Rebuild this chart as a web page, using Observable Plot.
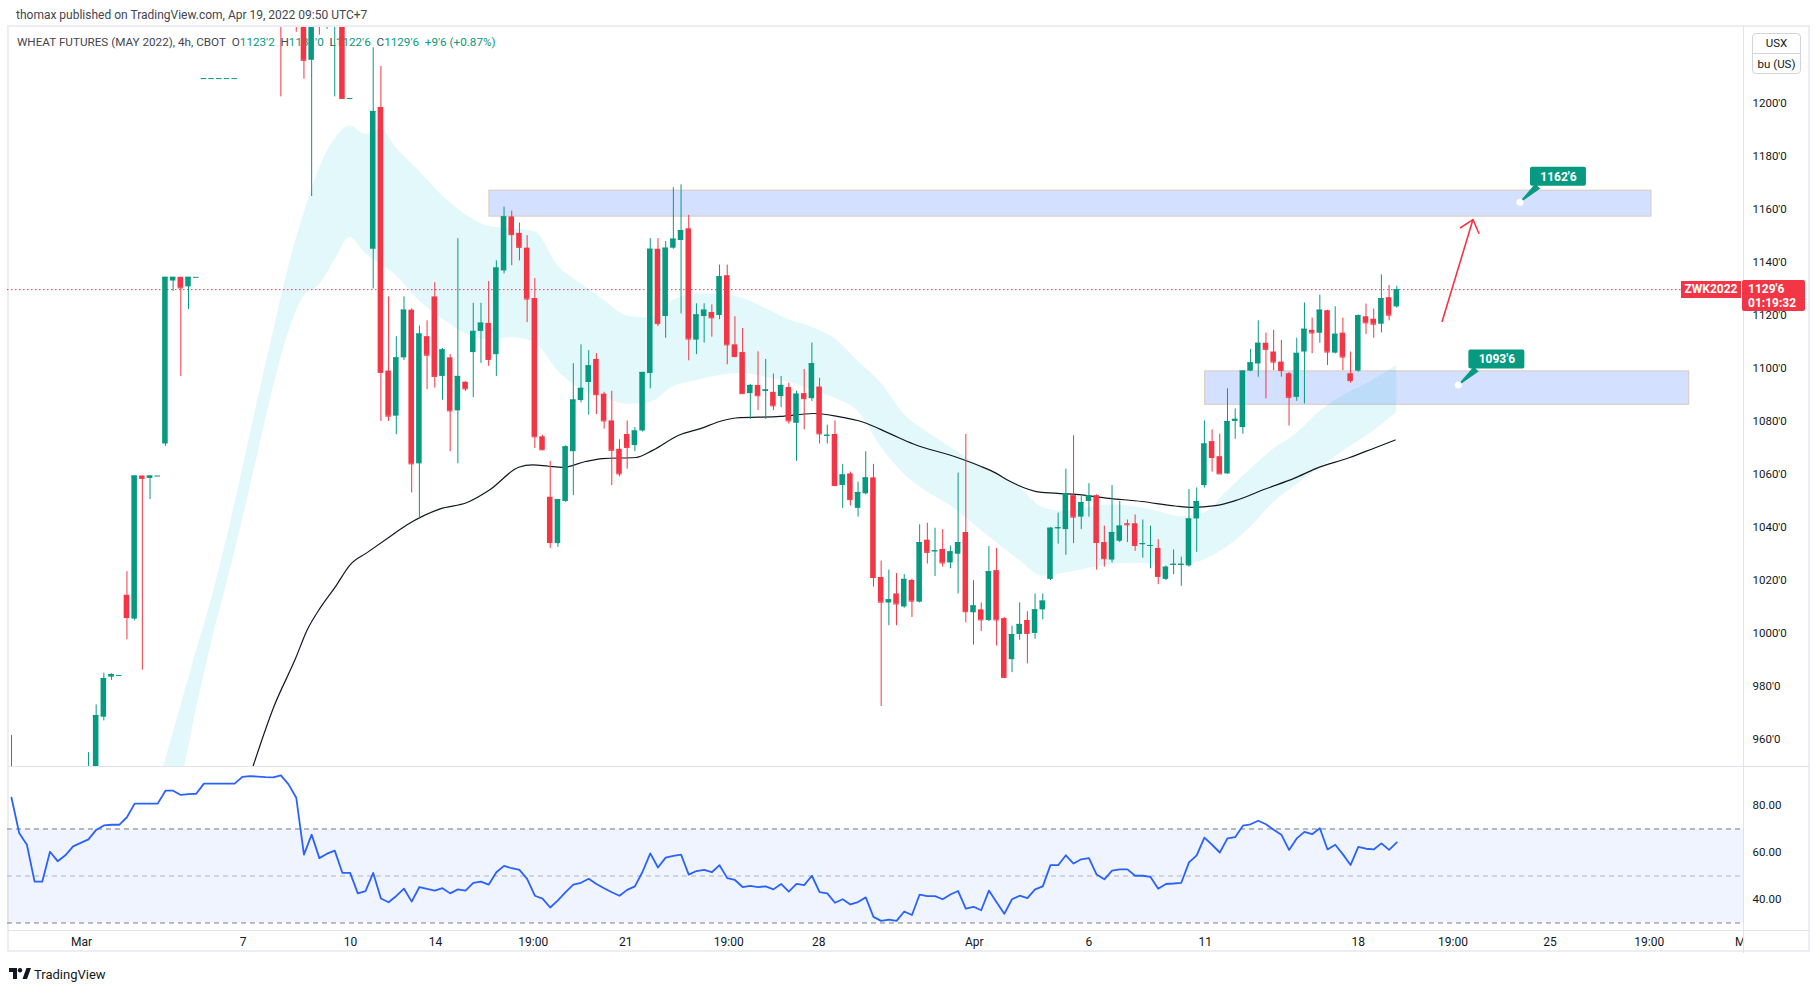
<!DOCTYPE html>
<html><head><meta charset="utf-8">
<script src="https://cdn.jsdelivr.net/npm/d3@7"></script>
<script src="https://cdn.jsdelivr.net/npm/@observablehq/plot@0.6"></script>
<style>
body{margin:0;background:#fff;font-family:Roboto,"Liberation Sans",sans-serif;color:#131722;}
#page{position:relative;width:1820px;height:993px;overflow:hidden;background:#fff;}
</style></head><body><div id="page"></div>
<script>
// ---------- data (4h bars, index 0 = first bar on screen) ----------
const open = [
930,null,null,null,null,null,null,null,null,null,
935,945,968.4,983.5,984.1,1014.4,1005.4,1059.4,1058.5,1059.4,
1071.5,1133,1134.4,1130.8,1134.4,1209.4,1209.4,1209.4,1209.4,1209.4,
null,null,null,null,null,1250,null,1250,1245,1216.3,
1245,1235,1232,1240,1201.9,null,null,1145,1198.5,1099,
1082,1104,1122,1064,1112,1127,1097,1104,1084,1094.8,
1106,1114,1117,1105.2,1136.8,1157.2,1151,1145.4,1126.4,1074.2,
1051.4,1033.9,1049.8,1068.6,1087.9,1094.7,1103.4,1090.3,1080.2,1069.5,
1075.1,1070.9,1076.4,1098.1,1145,1119.6,1145.4,1148.3,1152.7,1110.7,
1119.6,1121.1,1120,1135,1108.9,1106,1090.5,1093.6,1091.3,1091,
1089.4,1092.8,1079.3,1090.5,1088.6,1093,1074.4,1075.1,1055.8,1060.2,
1047.2,1052.7,1058.7,1021.1,1011.5,1014.9,1010,1020,1011.8,1035.2,
1030.8,1031.7,1026.6,1029.9,1038.1,1007.8,1008.9,1004.9,1023.7,1005.6,
990.1,999.6,1004.9,1000,1008.9,1020.4,1039.5,1039.2,1052,1043.9,
1049.8,1052,1034.3,1027.7,1034.8,1041.4,1041.4,1033.5,1032.8,1032.1,
1020.4,1025.7,1025.7,1025.5,1043.2,1055.8,1072.4,1066.7,1060.2,1080,
1077.7,1099,1101.7,1109.5,1106.2,1102.4,1098,1089.1,1106.2,1114.4,
1113.3,1121.8,1105.8,1113.3,1098,1099,1119.5,1118.6,1116.7,1126.7,
1123.25];
const high = [
961.5,null,null,null,null,null,null,null,null,null,
955,973,985,984.8,984.1,1023.3,1059.4,1059.4,1059.4,1059.4,
1134.4,1134.4,1134.4,1134.4,1134.4,1209.4,1209.4,1209.4,1209.4,1209.4,
null,null,null,null,null,1260,null,1260,1255,1250,
1250,1245,1255,1250,1201.9,null,null,1221,1214,1127,
1112,1127,1122.5,1116,1118,1132.4,1107.5,1105.2,1149,1095,
1124.6,1124.6,1132.8,1140.6,1160.9,1159.4,1154.9,1150.1,1133.9,1074.8,
1064.9,1050.5,1070.8,1101.8,1108.9,1106.7,1105.6,1091,1091.4,1073.1,
1080.2,1077.7,1098.5,1149,1149,1147.9,1168.2,1169.3,1157.8,1124.4,
1124.4,1124,1139,1139,1119.5,1115.1,1094,1106.3,1103.4,1097.9,
1097,1094.5,1091.4,1099.6,1109.6,1096.3,1078.6,1080.2,1063.8,1060.9,
1057.1,1068.6,1063.8,1027.3,1023.9,1022.6,1022.2,1020.5,1041,1041.6,
1039.7,1039.2,1033,1060.5,1075.1,1019.9,1011.5,1032.8,1032.1,1006,
1002.7,1011.5,1008.2,1014.9,1014.9,1039.9,1045.4,1062,1074.6,1051.6,
1056.5,1052.3,1040.5,1055.8,1049.8,1042.8,1044.7,1042.8,1040.5,1035.4,
1025.5,1031.5,1028.8,1054.3,1054.9,1080.2,1076.8,1075.2,1092.3,1084.7,
1099.2,1107.2,1118,1113.3,1114.4,1110.6,1098.5,1111.4,1124.7,1119,
1127.7,1122,1123.3,1119,1106.2,1120.2,1124.3,1122.4,1135.3,1131.3,
1131];
const low = [
925,null,null,null,null,null,null,null,null,null,
930,940,967,982.3,984.1,997.6,1004.7,986.1,1050.5,1059.4,
1070.6,1129.1,1097,1122.2,1134.4,1209.4,1209.4,1209.4,1209.4,1209.4,
null,null,null,null,null,1202.5,null,1226.9,1209.2,1164.9,
1225.8,1228,1202.5,1201.9,1201.9,null,null,1130,1080,1080,
1075,1103,1053,1043,1092,1092.6,1088,1068.6,1064,1091.4,
1089,1101.9,1100.8,1097,1135.7,1138.8,1140.6,1117.3,1069.8,1069,
1032.1,1032.5,1049.5,1052,1087,1082.4,1082.6,1077.1,1055.8,1059.1,
1062,1068.6,1076,1092.3,1115.8,1111.4,1145,1120.6,1102.9,1105.2,
1109.6,1111.8,1118.4,1101.4,1104,1090.5,1080.8,1084.1,1080.8,1084.1,
1085.2,1079,1064.9,1076.8,1087.5,1071.5,1071.5,1055.4,1047.2,1048.1,
1043.9,1052.3,1017.5,972.4,1002.9,1002.9,1009.5,1006,1011.5,1026.2,
1021.5,1025,1024.4,1014.9,1004,995.6,1000.7,1004.5,995.2,983,
985.2,997.4,988.5,997.8,1005.1,1020,1033.7,1029.5,1033.9,1039.2,
1043.9,1023.9,1025,1026.6,1034.3,1034.3,1031,1028.4,1024.4,1018.4,
1020,1022.2,1017.8,1025,1030.6,1054.9,1060.9,1060.2,1060,1073.3,
1075.2,1098.8,1096.7,1088.5,1099.2,1096.7,1078.3,1087.6,1086.6,1105.6,
1109.5,1101.1,1105.5,1099.2,1094.4,1098.6,1112.9,1111.4,1113.4,1118,
1122.75];
const close = [
945,null,null,null,null,null,null,null,null,null,
948,969,983,984.5,984.1,1006,1059.4,1058.5,1059.4,1059.4,
1134.4,1134.4,1130.4,1134.4,1134.4,1209.4,1209.4,1209.4,1209.4,1209.4,
null,null,null,null,null,1235,null,1240,1216.3,1240,
1235,1240,1245,1201.9,1201.9,null,null,1197,1098.5,1082,
1104,1122,1064,1113,1105,1097,1107,1084,1097,1092.3,
1114,1117.1,1103.4,1137.9,1157.2,1150.5,1145.7,1126.2,1074.2,1069.3,
1034.3,1050.5,1070.4,1088.1,1092.5,1101,1090.1,1080.2,1069.1,1060.2,
1070.2,1076.4,1098.5,1145,1116.9,1145.4,1148.8,1152,1111.1,1120.2,
1122,1119.1,1134.6,1108.9,1104.5,1090.5,1093.6,1089.7,1091.9,1085.9,
1093.6,1080.2,1090.3,1088.6,1101.8,1075.3,1074.8,1055.8,1059.8,1050.5,
1053.2,1058.7,1021.1,1011.8,1012.7,1011.1,1020.4,1012.2,1034.3,1030.6,
1031.2,1026.6,1030.8,1034.3,1008.2,1010.4,1005.1,1023.3,1005.1,983.4,
999.6,1003.4,1000,1008.9,1012.2,1039.7,1039.9,1052.7,1043.9,1049.4,
1052,1034.3,1028.2,1038.1,1040.5,1041,1033.2,1033.9,1033.2,1021.5,
1025,1026.1,1026.1,1043.2,1049.8,1071.5,1066.4,1060.2,1080,1080.8,
1099,1102.1,1109.5,1107.2,1102.4,1099.2,1089.1,1105.7,1114.8,1113.4,
1122,1106.2,1112.9,1104.3,1095.4,1119.9,1117.2,1116.7,1126.4,1120.1,
1129.75];
const rsi = [
83.3,68.3,63.3,47.6,47.6,60.3,56.3,58.8,62.6,64.1,
65.6,69.6,71.5,71.8,71.8,75.0,80.8,80.8,80.8,80.8,
86.3,86.3,84.5,84.8,85.0,89.3,89.3,89.3,89.3,89.3,
92.2,92.5,92.3,92.1,92.0,92.8,89.0,83.3,59.1,67.6,
57.6,59.5,60.8,51.3,51.3,42.6,43.6,51.3,40.4,38.8,
41.5,44.6,39.1,45.3,44.5,43.8,44.8,42.6,44.3,43.8,
47.1,47.6,46.3,51.6,54.3,53.3,52.6,48.8,41.6,40.4,
36.6,39.6,43.1,46.3,47.1,48.8,46.6,44.8,43.1,41.6,
44.1,45.6,51.8,59.6,53.6,57.8,58.6,59.1,50.6,52.1,
52.6,51.6,54.6,49.1,48.3,45.3,45.8,45.3,45.6,44.3,
46.6,43.3,46.6,46.1,50.1,43.1,42.6,38.6,40.1,37.9,
38.9,40.9,32.6,30.9,31.4,30.9,34.9,33.4,42.1,41.4,
41.4,40.1,42.1,43.6,36.1,36.9,35.4,43.8,38.8,33.9,
40.1,41.6,40.6,44.3,45.6,54.6,54.6,58.8,55.3,57.1,
57.6,50.6,48.6,52.3,52.8,52.8,50.1,50.1,49.6,44.6,
46.6,46.8,47.1,55.8,58.8,66.3,63.3,60.0,66.0,66.5,
71.4,72.0,73.5,72.0,69.7,67.6,61.1,66.0,68.8,67.8,
70.3,61.3,63.3,59.2,54.7,62.4,61.6,61.3,63.9,61.1,
64.3];
const emaK = [31.4,34.1,36.9,38.4,40.2,42.1,44.0,46.2,49.2,51.4,55.7,59.2,62.2,65.9,67.7,69.8,71.6,74.6,76.8,81.1,83.3,86.7,89.7,91.9,94.1,99.9,104.2,107.3,110.7,114.2,117.2,122.9,125.9,127.9,129.6,133.9,138.3,142.6,146.9,151.2,153.4,156.4,159.0,162.9,166.8,169.4,173.8,177.2,179.8];
const emaV = [950,972.4,990.5,1001.2,1010,1017.7,1025.9,1030.5,1036.6,1041,1047,1049.4,1054.3,1062.7,1063.6,1063.1,1062.7,1064.9,1066,1066.4,1069.1,1074.8,1077.5,1079.9,1081.3,1081.9,1083,1081.9,1079.7,1075.3,1071.5,1066.4,1063.1,1060.5,1057.6,1053.2,1052.5,1051,1049.8,1048.1,1047.6,1048.2,1050.1,1054.5,1058.7,1062.1,1066.3,1070.1,1073];
const bandK = [19.8,22,24,26,28,30,32,34,36,38,40,42,44,46,48,50,53,56,59,62,65,68,71,74,77,80,83,86,89,92,95,98,101,104,107,110,113,116,119,122,125,128,131,134,137,140,143,146,149,152,155,158,161,164,167,170,173,176,180];
const bandUpper = [950,972.5,993,1013,1036.2,1061.5,1088,1113.3,1138.1,1158.4,1175.4,1186.5,1191.5,1188.4,1190.3,1183.2,1174.4,1165.2,1158.1,1153.7,1152.8,1151.6,1138.8,1132,1125.7,1119.8,1119,1125.7,1128.2,1128,1126.5,1122.6,1118.4,1115.6,1111.2,1102.7,1094.5,1082.7,1076,1070.3,1064.9,1060.5,1055.2,1047.5,1046,1047.5,1048.6,1047.8,1046,1044,1045.5,1053.8,1062,1069.6,1075.5,1083.8,1089.7,1094,1101.2];
const bandLower = [950,947.6,971,996.6,1019,1042.5,1067.5,1092.5,1113.5,1127.3,1131.5,1140.7,1149.4,1143.4,1139.2,1135,1125.5,1118.7,1113.1,1110.8,1111.6,1109.7,1099,1092.1,1089,1086.5,1087.2,1093.1,1095.4,1097.3,1098.1,1096.7,1094.8,1092,1088.8,1083.8,1070.4,1060.1,1053.4,1048.2,1041.2,1034.2,1027.5,1021.5,1022.8,1024.6,1026,1026.5,1026,1025.5,1027.7,1032.7,1040,1049.4,1056.1,1062.4,1068.7,1074.3,1083.3];
const priceTicks = [960,980,1000,1020,1040,1060,1080,1100,1120,1140,1160,1180,1200];
const rsiTicks = [40,60,80];
const rsiLevels = [70,50,30];
const timeTickK = [9.1,30.1,44.05,55.1,67.8,79.8,93.2,104.9,125.1,140,155.1,175,187.3,199.9,212.8,225.4];
const timeTickLabel = ["Mar","7","10","14","19:00","21","19:00","28","Apr","6","11","18","19:00","25","19:00","May"];
const zoneStart = [62.1,155.1], zoneEnd = [213.1,218.0], zoneLow = [1157.3,1086.3], zoneHigh = [1167.1,1098.9];
const labelK = [196.0,188.0], labelPrice = [1162.75,1093.75], labelText = ["1162'6","1093'6"];
const arrowFrom = [185.9,1117.8], arrowTo = [189.9,1156.2];
const lastPrice = 1129.75;

// ---------- build ----------
const page = document.getElementById("page");
const green = "#089981", red = "#f23645", teal = "#089981";
const W = 1803;
const xDomain = [-0.52, 225.05];
const yDomain = [949.78, 1228.68];
const font = "Roboto, 'Liberation Sans', sans-serif";

function place(el, left, top, z) {
  el.style.position = "absolute"; el.style.left = left + "px"; el.style.top = top + "px";
  if (z != null) el.style.zIndex = z;
  page.appendChild(el); return el;
}
function div(html, css, left, top, z) {
  const d = document.createElement("div"); d.innerHTML = html; d.style.cssText = css;
  return place(d, left, top, z);
}

// header & legend (under the chart svg)
div("thomax published on TradingView.com, Apr 19, 2022 09:50 UTC+7",
    "font-size:12px;color:#434651;white-space:nowrap;line-height:16px;", 16, 7, 0);
div("WHEAT FUTURES (MAY 2022), 4h, CBOT&nbsp; O<span style='color:#089981'>1123'2</span>&nbsp; H<span style='color:#089981'>1131'0</span>&nbsp; L<span style='color:#089981'>1122'6</span>&nbsp; C<span style='color:#089981'>1129'6</span>&nbsp; <span style='color:#089981'>+9'6 (+0.87%)</span>",
    "font-size:11.7px;color:#434651;white-space:nowrap;line-height:16px;", 17, 34, 0);

// frame
div("", "width:1803px;height:927px;border:2px solid #eceef3;box-sizing:border-box;", 7, 25, 0);

const candles = open.map((o, i) => ({k: i, o, h: high[i], l: low[i], c: close[i]})).filter(d => d.o != null);
const col = d => d.c >= d.o ? green : red;
const band = bandK.map((k, i) => ({k, up: bandUpper[i], lo: bandLower[i]}));
const ema = emaK.map((k, i) => ({k, v: emaV[i]}));
const rsiRows = rsi.map((r, i) => ({k: i, r}));
const zones = zoneStart.map((s, i) => ({x1: s, x2: zoneEnd[i], y1: zoneLow[i], y2: zoneHigh[i]}));
const labels = labelK.map((k, i) => ({k, p: labelPrice[i], t: labelText[i]}));
const arrows = [{x1: arrowFrom[0], y1: arrowFrom[1], x2: arrowTo[0], y2: arrowTo[1]}];
const style = {background: "transparent", fontFamily: font, fontSize: "11.5px", color: "#131722", overflow: "visible"};

const main = Plot.plot({
  width: W, height: 739, marginLeft: 0, marginRight: 67, marginTop: 0, marginBottom: 0,
  x: {domain: xDomain, axis: null},
  y: {domain: yDomain},
  style,
  marks: [
    Plot.rect(zones, {x1: "x1", x2: "x2", y1: "y1", y2: "y2", fill: "#2962ff", fillOpacity: 0.2, stroke: "#d9cabd", strokeWidth: 1, clip: true}),
    Plot.areaY(band, {x: "k", y1: "lo", y2: "up", fill: "#00bcd4", fillOpacity: 0.11, curve: "monotone-x", clip: true}),
    Plot.line(ema, {x: "k", y: "v", stroke: "#131722", strokeWidth: 1.2, curve: "monotone-x", clip: true}),
    Plot.ruleY([lastPrice], {stroke: red, strokeDasharray: "1.5,2.5", strokeWidth: 1}),
    Plot.ruleX(candles, {x: "k", y1: "l", y2: "h", stroke: col, strokeWidth: 1, clip: true}),
    Plot.rect(candles, {x1: d => d.k - 0.36, x2: d => d.k + 0.36, y1: "o", y2: "c", fill: col, clip: true}),
    Plot.ruleY(candles, {x1: d => d.k - 0.36, x2: d => d.k + 0.36, y: "c", stroke: col, strokeWidth: 1, clip: true}),
    Plot.arrow(arrows, {x1: "x1", y1: "y1", x2: "x2", y2: "y2", stroke: red, strokeWidth: 1.6, headLength: 14, headAngle: 80}),
    Plot.vector(labels, {x: "k", y: "p", length: 24, rotate: 228, anchor: "end", shape: "spike", r: 3, fill: teal, stroke: teal, strokeWidth: 1}),
    Plot.dot(labels, {x: "k", y: "p", r: 3.5, fill: "white", stroke: "none"}),
    Plot.rect(labels, {x1: "k", x2: "k", y1: "p", y2: "p", dx: 38.5, dy: -25.5, insetLeft: -28, insetRight: -28, insetTop: -9.5, insetBottom: -9.5, fill: teal, rx: 2}),
    Plot.text(labels, {x: "k", y: "p", text: "t", dx: 38.5, dy: -25.5, fill: "white", fontWeight: "bold", fontSize: 12}),
    Plot.axisY(priceTicks, {anchor: "right", tickSize: 0, tickPadding: 9, tickFormat: d => d + "'0", label: null, fontSize: 11.5})
  ]
});
place(main, 7, 27, 1);

const rsiPlot = Plot.plot({
  width: W, height: 164, marginLeft: 0, marginRight: 67, marginTop: 0, marginBottom: 0,
  x: {domain: xDomain, axis: null},
  y: {domain: [26.8, 96.6]},
  style,
  marks: [
    Plot.rect([{a: rsiLevels[2], b: rsiLevels[0]}], {x1: () => xDomain[0], x2: () => xDomain[1], y1: "a", y2: "b", fill: "#2962ff", fillOpacity: 0.07}),
    Plot.ruleY([rsiLevels[0], rsiLevels[2]], {stroke: "#787b86", strokeDasharray: "5,4"}),
    Plot.ruleY([rsiLevels[1]], {stroke: "#b2b5be", strokeDasharray: "5,4"}),
    Plot.line(rsiRows, {x: "k", y: "r", stroke: "#2962ff", strokeWidth: 1.8, clip: true}),
    Plot.axisY(rsiTicks, {anchor: "right", tickSize: 0, tickPadding: 9, tickFormat: d => d.toFixed(2), label: null, fontSize: 11.5})
  ]
});
place(rsiPlot, 7, 766, 1);

const timeRows = timeTickK.map((k, i) => ({k, t: timeTickLabel[i]}));
const timePlot = Plot.plot({
  width: W, height: 23, marginLeft: 0, marginRight: 67, marginTop: 0, marginBottom: 0,
  x: {domain: xDomain, axis: null},
  style,
  marks: [Plot.text(timeRows, {x: "k", text: "t", frameAnchor: "middle", fontSize: 12, fill: "#131722", clip: true})]
});
place(timePlot, 7, 930, 1);

// separators
div("", "width:1803px;height:1px;background:#e0e3eb;", 7, 766, 2);
div("", "width:1803px;height:1px;background:#e0e3eb;", 7, 930, 2);
div("", "width:1px;height:927px;background:#e0e3eb;", 1743, 26, 2);

// unit box
div("<div style='border-bottom:1px solid #d1d4dc;padding:2px 0 3px'>USX</div><div style='padding:3px 0 2px'>bu (US)</div>",
    "width:47px;border:1px solid #d1d4dc;border-radius:4px;font-size:11.5px;text-align:center;color:#131722;background:#fff;line-height:14px;", 1752, 33, 3);

// last price tags
const yLast = 27 + main.scale("y").apply(lastPrice);
div("1129'6<br>01:19:32", "width:63px;height:31px;background:#f23645;color:#fff;font-size:12px;font-weight:bold;line-height:14px;padding:2px 0 0 6px;box-sizing:border-box;border-radius:2px;", 1742, yLast - 9, 3);
div("ZWK2022", "width:60px;height:17px;background:#f23645;color:#fff;font-size:12px;font-weight:bold;line-height:17px;text-align:center;", 1681, yLast - 8.5, 3);

// footer logo
div("<svg width='22' height='12' viewBox='0 0 22 12' style='vertical-align:-1px'><path d='M0 0H8V11H4V4H0Z' fill='#131722'/><circle cx='11' cy='2.2' r='2.2' fill='#131722'/><path d='M13.5 11L17.5 0H22L18 11Z' fill='#131722'/></svg> TradingView",
    "font-size:13px;color:#131722;white-space:nowrap;", 9, 967, 3);
</script></body></html>
